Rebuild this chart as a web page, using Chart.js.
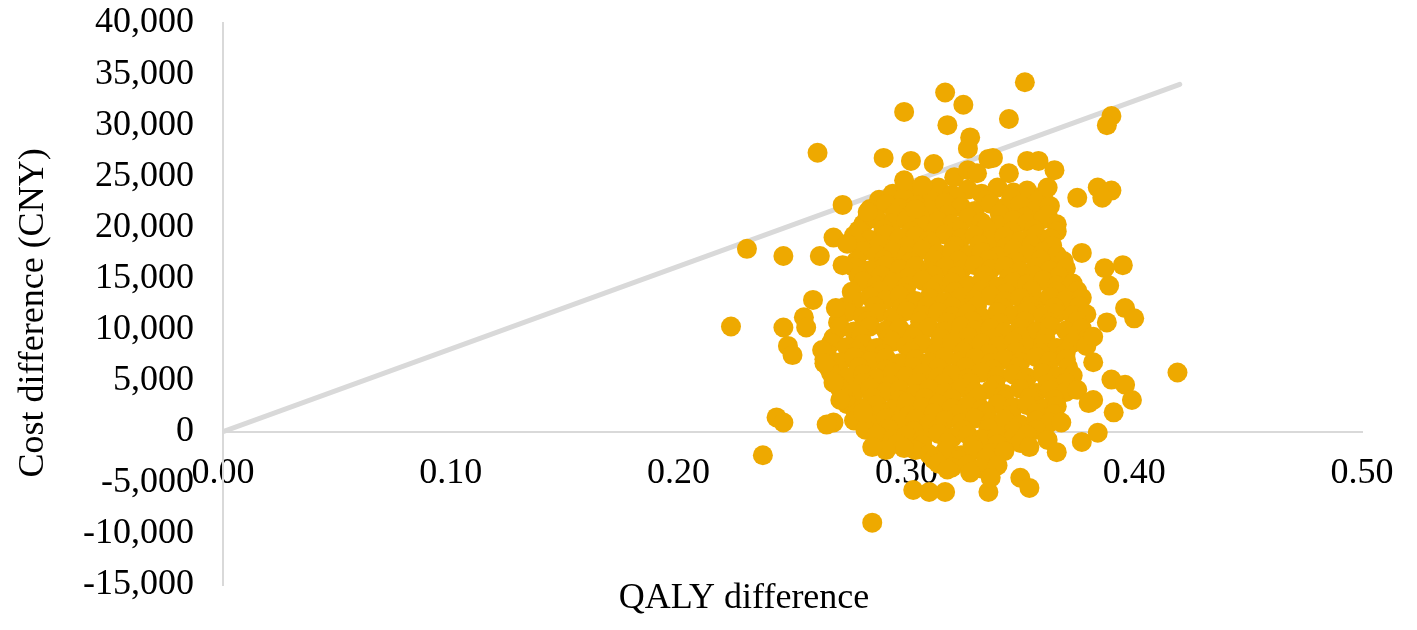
<!DOCTYPE html>
<html>
<head>
<meta charset="utf-8">
<script src="https://cdn.jsdelivr.net/npm/chart.js@4.4.1/dist/chart.umd.min.js"></script>
<style>
  html, body { margin: 0; padding: 0; background: #fff; }
  #psa { display: block; }
</style>
</head>
<body>
<canvas id="psa" width="1417" height="630"></canvas>
<script>
// axis ticks
const xTicks = [0, 0.1, 0.2, 0.3, 0.4, 0.5];
const yTicks = [-15000, -10000, -5000, 0, 5000, 10000, 15000, 20000, 25000, 30000, 35000, 40000];

// willingness-to-pay threshold line
const thresholdQaly = [0, 0.42];
const thresholdCost = [0, 34000];

// simulations, dense core (QALY difference, cost difference)
const corePoints = [
  [0.294,23300],[0.300,23800],[0.307,23400],[0.314,23900],[0.320,23200],[0.327,23700],[0.333,23300],[0.340,23900],[0.347,23400],[0.353,23600],[0.360,23100],
  [0.288,22700],[0.299,22900],[0.311,22600],[0.322,22800],[0.335,22700],[0.346,22900],[0.358,22600],
  [0.284,21800],[0.291,22300],[0.297,21900],[0.304,22200],[0.310,21700],[0.317,22400],[0.324,22000],[0.330,21600],[0.337,22300],[0.343,21900],[0.350,22200],[0.357,21700],[0.363,22100],
  [0.283,21100],[0.295,21300],[0.306,21000],[0.318,21200],[0.329,21100],[0.341,21300],[0.352,21000],[0.362,21200],
  [0.281,20300],[0.287,20800],[0.294,20400],[0.300,20700],[0.307,20200],[0.314,20600],[0.320,20300],[0.327,20900],[0.333,20500],[0.340,20200],[0.347,20700],[0.353,20400],[0.360,20800],[0.366,20300],
  [0.279,19700],[0.290,19800],[0.302,19600],[0.313,19800],[0.323,19700],[0.335,19900],[0.346,19600],[0.356,19800],[0.366,19600],
  [0.277,19200],[0.284,18800],[0.291,19300],[0.297,18900],[0.304,19100],[0.310,18700],[0.317,19300],[0.324,18900],[0.330,19200],[0.337,18800],[0.343,19100],[0.350,18700],[0.357,19300],[0.363,18900],
  [0.279,18200],[0.288,18300],[0.300,18100],[0.311,18300],[0.321,18200],[0.332,18300],[0.344,18100],[0.355,18300],[0.364,18200],
  [0.281,17700],[0.287,17300],[0.294,17600],[0.300,17200],[0.307,17800],[0.314,17400],[0.320,17700],[0.327,17300],[0.333,17600],[0.340,17200],[0.347,17800],[0.353,17400],[0.360,17600],[0.366,17300],
  [0.278,16700],[0.290,16800],[0.302,16600],[0.312,16800],[0.323,16700],[0.336,16800],[0.348,16600],[0.359,16800],[0.369,16700],
  [0.277,16100],[0.284,15800],[0.291,16300],[0.297,15900],[0.304,16200],[0.310,15700],[0.317,16100],[0.324,15800],[0.330,16300],[0.337,15900],[0.343,16200],[0.350,15700],[0.357,16100],[0.363,15800],[0.370,16000],
  [0.279,15200],[0.289,15300],[0.301,15100],[0.312,15300],[0.322,15200],[0.334,15300],[0.345,15100],[0.356,15300],[0.367,15200],
  [0.281,14700],[0.287,14300],[0.294,14600],[0.300,14200],[0.307,14800],[0.314,14400],[0.320,14600],[0.327,14300],[0.333,14700],[0.340,14200],[0.347,14600],[0.353,14400],[0.360,14800],[0.366,14300],[0.373,14500],
  [0.276,13700],[0.288,13800],[0.299,13600],[0.311,13800],[0.321,13700],[0.333,13800],[0.344,13600],[0.355,13800],[0.366,13700],[0.375,13800],
  [0.277,12800],[0.284,13200],[0.291,12900],[0.297,13300],[0.304,12800],[0.310,13100],[0.317,12700],[0.324,13200],[0.330,12900],[0.337,13300],[0.343,12800],[0.350,13100],[0.357,12700],[0.363,13200],[0.370,12900],[0.377,13100],
  [0.273,12200],[0.286,12300],[0.298,12100],[0.309,12300],[0.320,12200],[0.331,12300],[0.342,12100],[0.354,12300],[0.365,12200],[0.376,12300],
  [0.274,11700],[0.281,11300],[0.287,11600],[0.294,11200],[0.300,11800],[0.307,11400],[0.314,11700],[0.320,11300],[0.327,11600],[0.333,11200],[0.340,11700],[0.347,11400],[0.353,11800],[0.360,11300],[0.366,11600],[0.373,11400],[0.379,11500],
  [0.270,10700],[0.283,10800],[0.295,10600],[0.306,10800],[0.318,10700],[0.329,10800],[0.341,10600],[0.352,10800],[0.363,10700],[0.375,10800],
  [0.271,10200],[0.277,9800],[0.284,10300],[0.291,9900],[0.297,10100],[0.304,9700],[0.310,10200],[0.317,9800],[0.324,10300],[0.330,9900],[0.337,10100],[0.343,9700],[0.350,10200],[0.357,9800],[0.363,10300],[0.370,9900],[0.377,10100],
  [0.268,9200],[0.280,9300],[0.292,9100],[0.303,9300],[0.315,9200],[0.327,9300],[0.338,9100],[0.350,9300],[0.361,9200],[0.372,9300],[0.380,9200],
  [0.267,8700],[0.274,8300],[0.281,8600],[0.287,8200],[0.294,8800],[0.300,8400],[0.307,8600],[0.314,8300],[0.320,8700],[0.327,8200],[0.333,8600],[0.340,8400],[0.347,8800],[0.353,8300],[0.360,8600],[0.366,8200],[0.373,8700],[0.379,8400],
  [0.265,7700],[0.278,7800],[0.290,7600],[0.302,7800],[0.313,7700],[0.325,7800],[0.336,7600],[0.348,7800],[0.359,7700],[0.370,7800],
  [0.264,7100],[0.271,6800],[0.277,7300],[0.284,6900],[0.291,7200],[0.297,6700],[0.304,7100],[0.310,6800],[0.317,7300],[0.324,6900],[0.330,7200],[0.337,6700],[0.343,7100],[0.350,6800],[0.357,7300],[0.363,6900],[0.370,7100],
  [0.266,6200],[0.279,6300],[0.291,6100],[0.303,6300],[0.314,6200],[0.326,6300],[0.338,6100],[0.349,6300],[0.360,6200],[0.371,6300],
  [0.267,5700],[0.274,5300],[0.281,5600],[0.287,5200],[0.294,5800],[0.300,5400],[0.307,5700],[0.314,5300],[0.320,5600],[0.327,5200],[0.333,5800],[0.340,5400],[0.347,5600],[0.353,5300],[0.360,5700],[0.366,5400],[0.373,5500],
  [0.269,4700],[0.281,4800],[0.293,4600],[0.305,4800],[0.316,4700],[0.328,4800],[0.339,4600],[0.351,4800],[0.362,4700],[0.370,4800],
  [0.271,4200],[0.277,3800],[0.284,4300],[0.291,3900],[0.297,4100],[0.304,3700],[0.310,4200],[0.317,3800],[0.324,4300],[0.330,3900],[0.337,4100],[0.343,3700],[0.350,4200],[0.357,3800],[0.363,4100],[0.370,3900],
  [0.273,3200],[0.285,3300],[0.297,3100],[0.308,3300],[0.320,3200],[0.331,3300],[0.343,3100],[0.354,3300],[0.365,3200],
  [0.274,2700],[0.281,2300],[0.287,2600],[0.294,2200],[0.300,2800],[0.307,2400],[0.314,2700],[0.320,2300],[0.327,2600],[0.333,2200],[0.340,2700],[0.347,2400],[0.353,2600],[0.360,2300],[0.366,2500],
  [0.278,1700],[0.289,1800],[0.301,1600],[0.312,1800],[0.323,1700],[0.335,1800],[0.346,1600],[0.357,1800],[0.365,1700],
  [0.277,1100],[0.284,800],[0.291,1300],[0.297,900],[0.304,1200],[0.310,700],[0.317,1100],[0.324,800],[0.330,1300],[0.337,900],[0.343,1200],[0.350,700],[0.357,1100],[0.363,900],
  [0.282,200],[0.292,300],[0.303,100],[0.314,300],[0.325,200],[0.336,300],[0.347,100],[0.357,200],
  [0.287,-300],[0.294,-700],[0.300,-400],[0.307,-800],[0.314,-200],[0.320,-600],[0.327,-300],[0.333,-700],[0.340,-400],[0.347,-600],[0.353,-300],
  [0.296,-1200],[0.307,-1300],[0.318,-1100],[0.329,-1300],[0.340,-1200],[0.350,-1100],
  [0.304,-1800],[0.310,-2200],[0.317,-1900],[0.324,-2300],[0.330,-1800],[0.337,-2100],[0.343,-1900],
  [0.312,-2700],[0.323,-2800],[0.335,-2600],
  [0.314,-3100],[0.320,-3500],[0.327,-3200],[0.333,-3600],[0.340,-3300]
];

// simulations, scattered edge of the cloud
const edgePoints = [
  [0.352,34200],[0.317,33200],[0.325,32000],[0.299,31300],[0.318,30000],[0.345,30600],[0.390,30900],[0.388,30000],
  [0.328,28800],[0.327,27700],[0.261,27300],[0.290,26800],[0.302,26500],[0.312,26200],[0.336,26700],[0.338,26800],
  [0.353,26500],[0.358,26500],[0.365,25600],[0.345,25300],[0.299,24600],[0.307,24100],[0.321,24900],[0.327,25600],
  [0.331,25300],[0.362,23900],[0.375,22900],[0.384,23900],[0.390,23600],[0.386,22900],[0.272,22200],[0.268,19000],
  [0.274,18400],[0.230,17900],[0.246,17200],[0.262,17200],[0.272,16300],[0.377,17500],[0.395,16300],[0.387,16000],
  [0.389,14300],[0.396,12100],[0.400,11100],[0.388,10700],[0.382,9300],[0.382,6800],[0.419,5800],[0.390,5100],
  [0.396,4600],[0.399,3100],[0.382,3100],[0.375,4100],[0.391,1900],[0.380,2800],[0.368,900],[0.377,-1000],
  [0.384,-100],[0.362,-800],[0.366,-2000],[0.354,-1500],[0.350,-4500],[0.354,-5500],[0.336,-5900],[0.337,-4500],
  [0.328,-4000],[0.318,-3700],[0.317,-5900],[0.310,-5900],[0.303,-5700],[0.299,-1600],[0.291,-1800],[0.285,-1500],
  [0.285,-8900],[0.237,-2300],[0.243,1400],[0.246,900],[0.268,900],[0.265,700],[0.223,10300],[0.246,10200],
  [0.259,12900],[0.255,11200],[0.256,10200],[0.248,8400],[0.250,7500],[0.269,12100],[0.263,8000],[0.264,6700],
  [0.268,4800],[0.271,3100],[0.281,1900],[0.304,21800],[0.283,21500]
];

const pointColor = '#EEA900';
const axisColor = '#D9D9D9';
const serif = '"Liberation Serif", "Times New Roman", serif';

const simulations = corePoints.concat(edgePoints).map(p => ({ x: p[0], y: p[1] }));
const threshold = thresholdQaly.map((q, i) => ({ x: q, y: thresholdCost[i] }));

// axis titles drawn by hand: the x axis sits on y = 0 and
// the y title is not centred on the plot in the original
const axisTitles = {
  id: 'axisTitles',
  afterDraw(chart) {
    const ctx = chart.ctx;
    ctx.save();
    ctx.font = '36px ' + serif;
    ctx.fillStyle = '#000';
    ctx.textAlign = 'center';
    ctx.textBaseline = 'alphabetic';
    ctx.fillText('QALY difference', 744, 608);
    ctx.translate(43, 313);
    ctx.rotate(-Math.PI / 2);
    ctx.fillText('Cost difference (CNY)', 0, 0);
    ctx.restore();
  }
};

new Chart(document.getElementById('psa'), {
  type: 'scatter',
  data: {
    datasets: [
      {
        data: simulations,
        backgroundColor: pointColor,
        borderWidth: 0,
        pointRadius: 10,
        pointHoverRadius: 10,
        order: 0
      },
      {
        type: 'line',
        data: threshold,
        borderColor: axisColor,
        borderWidth: 5,
        borderCapStyle: 'round',
        pointRadius: 0,
        fill: false,
        order: 1
      }
    ]
  },
  options: {
    responsive: false,
    animation: false,
    devicePixelRatio: 1,
    layout: { padding: { left: 0, right: 55, top: 0, bottom: 0 } },
    plugins: { legend: { display: false }, tooltip: { enabled: false } },
    scales: {
      x: {
        type: 'linear',
        min: 0,
        max: 0.5,
        position: { y: 0 },
        afterBuildTicks: s => { s.ticks = xTicks.map(v => ({ value: v })); },
        grid: { display: false },
        border: { display: true, color: axisColor, width: 2 },
        ticks: {
          padding: 12,
          color: '#000',
          font: { family: serif, size: 36 },
          callback: v => v.toFixed(2)
        }
      },
      y: {
        type: 'linear',
        min: -15000,
        max: 40000,
        afterBuildTicks: s => { s.ticks = yTicks.map(v => ({ value: v })); },
        afterFit: s => { s.width = 223; s.paddingTop = 23; s.paddingBottom = 45; },
        grid: { display: false },
        border: { display: true, color: axisColor, width: 2 },
        ticks: {
          padding: 21,
          color: '#000',
          font: { family: serif, size: 36 },
          callback: v => v.toLocaleString('en-US')
        }
      }
    }
  },
  plugins: [axisTitles]
});
</script>
</body>
</html>
